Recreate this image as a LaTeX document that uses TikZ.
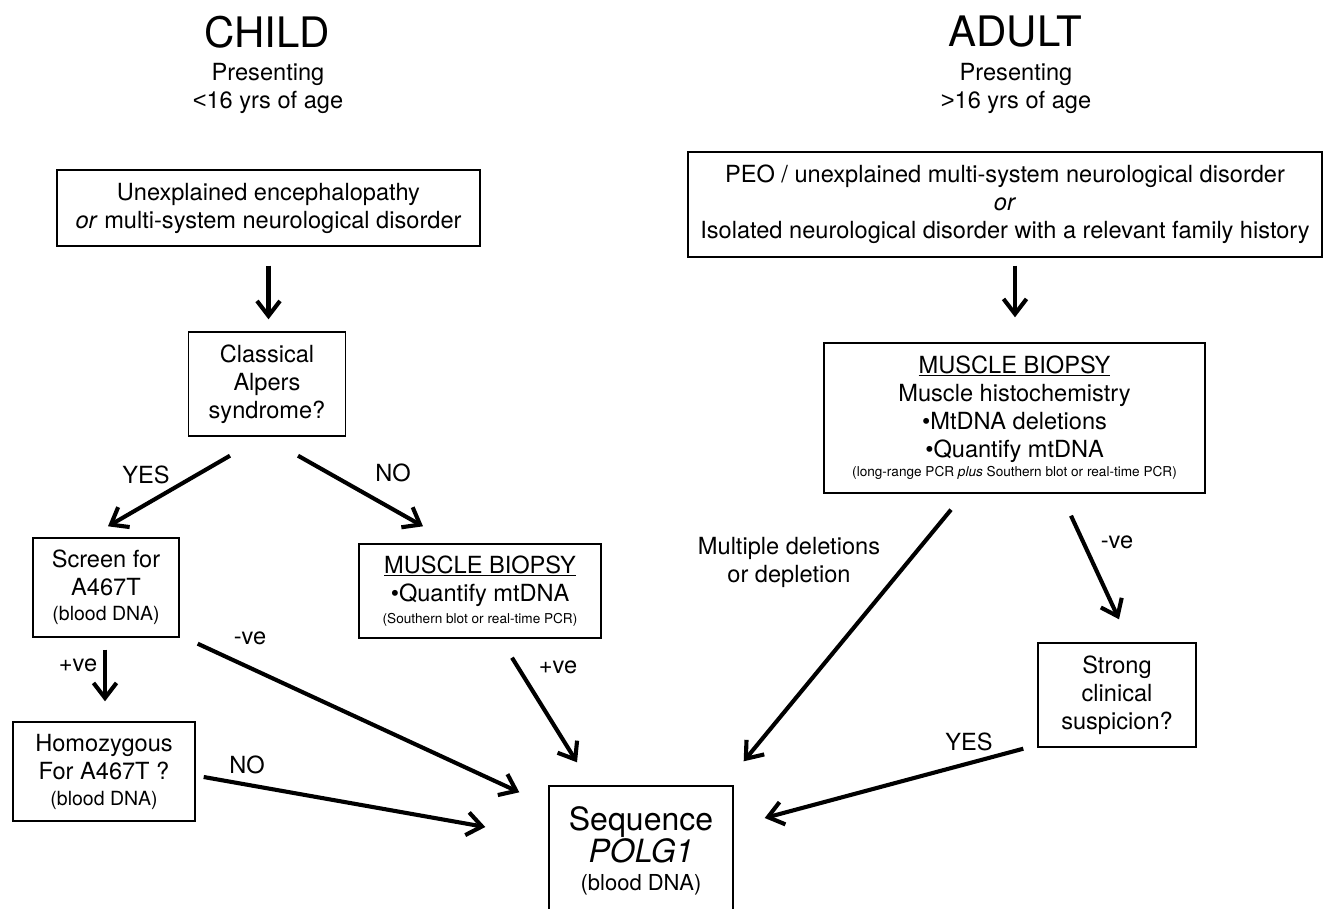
\documentclass[tikz,border=0pt]{standalone}
\usepackage{fontspec}
\setmainfont{TeX Gyre Heros}
\newfontfamily\cmpfont{Liberation Sans}
\usetikzlibrary{arrows.meta}
\newcommand{\smalltxt}{\fontsize{13.6}{15}\selectfont}
\newcommand{\midtxt}{\fontsize{19.5}{22}\selectfont}
\begin{document}
\begin{tikzpicture}[x=1pt,y=-1pt,
  font=\fontsize{23.6}{28}\selectfont,
  box/.style={draw, line width=1.4pt, inner sep=0pt, align=center},
  ttl/.style={font=\fontsize{42}{46}\selectfont},
  arr/.style={line width=4.1pt, -{Straight Barb[length=15pt,width=23pt]}}]
\useasboundingbox (0,0) rectangle (1324,909);
\node[ttl] (child) at (267,32){CHILD};
\node[align=center] (childage) at (268,88){Presenting\\ {\cmpfont <}16 yrs of age};
\node[ttl] (adult) at (1015,32){ADULT};
\node[align=center] (adultage) at (1016,88){Presenting\\ {\cmpfont >}16 yrs of age};
\node[box, minimum width=423, minimum height=76] (enc) at (268.5,208){Unexplained encephalopathy\\ \textit{or} multi-system neurological disorder};
\node[box, minimum width=157, minimum height=104] (alp) at (267,384){Classical\\ Alpers\\ syndrome?};
\node[box, minimum width=146, minimum height=99] (scr) at (106,587.5){Screen for\\ A467T\\[-3pt] {\midtxt (blood DNA)}};
\node[box, minimum width=182, minimum height=99] (hom) at (104,771.5){Homozygous\\ For A467T ?\\[-2pt] {\midtxt (blood DNA)}};
\node[box, minimum width=242, minimum height=94] (mbc) at (480,591){\underline{MUSCLE BIOPSY}\\ \textbullet Quantify mtDNA\\[-6pt] {\smalltxt (Southern blot or real-time PCR)}};
\node[box, minimum width=184, minimum height=129] (seq) at (641,850.5){{\fontsize{32}{35}\selectfont Sequence}\\ {\fontsize{32}{35}\selectfont\textit{POLG1}}\\ {\fontsize{22}{26}\selectfont (blood DNA)}};
\node[box, minimum width=634, minimum height=105] (peo) at (1005,204.5){PEO / unexplained multi-system neurological disorder\\ \textit{or}\\ Isolated neurological disorder with a relevant family history};
\node[box, minimum width=381, minimum height=150] (mba) at (1014.5,418){\underline{MUSCLE BIOPSY}\\ Muscle histochemistry\\ \textbullet MtDNA deletions\\ \textbullet Quantify mtDNA\\[-9pt] {\smalltxt (long-range PCR \textit{plus} Southern blot or real-time PCR)}};
\node[box, minimum width=158, minimum height=104] (sus) at (1117,695){Strong\\ clinical\\ suspicion?};
\draw[arr]([shift={(0,19)}]enc.south) -- ([shift={(1.5,-12)}]alp.north);
\draw[arr]([shift={(-37,19)}]alp.south) -- ([shift={(2,-11)}]scr.north);
\draw[arr]([shift={(31,19)}]alp.south) -- ([shift={(-57,-17)}]mbc.north);
\draw[arr]([shift={(-1,12)}]scr.south) -- ([shift={(1,-20)}]hom.north);
\draw[arr]([shift={(18,6)}]scr.south east) -- ([shift={(-29,7)}]seq.north west);
\draw[arr]([shift={(8,5.5)}]hom.east) -- ([shift={(-63,-23.5)}]seq.west);
\draw[arr]([shift={(32,19)}]mbc.south) -- ([shift={(-64,-23)}]seq.north);
\draw[arr]([shift={(10,8)}]peo.south) -- ([shift={(0.5,-25)}]mba.north);
\draw[arr]([shift={(-63.5,16)}]mba.south) -- ([shift={(10,-24)}]seq.north east);
\draw[arr]([shift={(56.5,22)}]mba.south) -- ([shift={(2,-23)}]sus.north);
\draw[arr]([shift={(-14,1)}]sus.south west) -- ([shift={(31,-32.5)}]seq.east);
\node (yes0) at (146,475){YES};
\node (no0) at (393,473){NO};
\node (neg0) at (250,638){-ve};
\node (pos0) at (78,665){+ve};
\node (no1) at (247,765){NO};
\node (pos1) at (558,667){+ve};
\node[align=center] (multi) at (789,562){Multiple deletions\\ or depletion};
\node (neg1) at (1117,542){-ve};
\node (yes1) at (969,742){YES};
\end{tikzpicture}
\end{document}
